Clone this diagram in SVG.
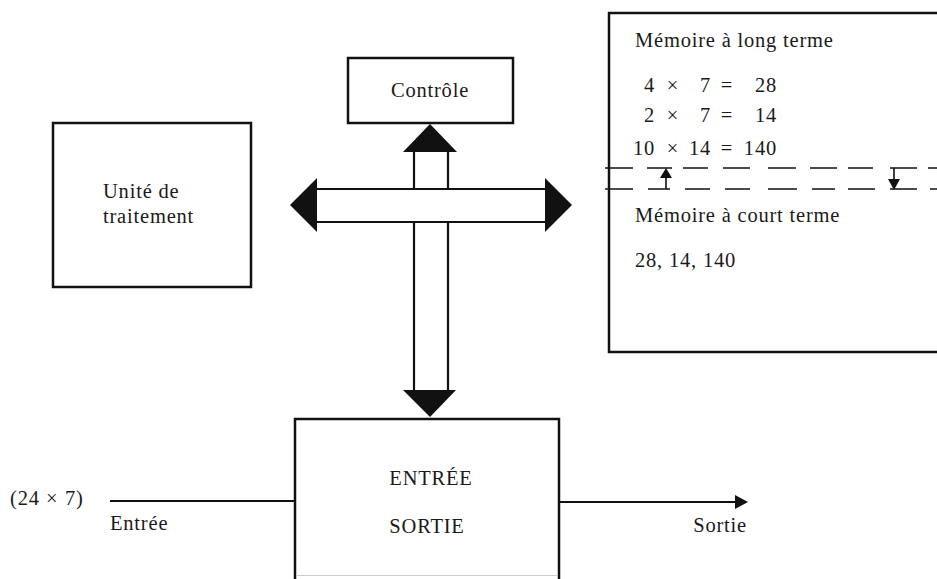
<svg xmlns="http://www.w3.org/2000/svg" width="937" height="579" viewBox="0 0 937 579">
<style>
  .box { fill: #fff; stroke: #111; stroke-width: 2.5; }
  .ln { fill: none; stroke: #111; stroke-width: 2.2; }
  .thin { fill: none; stroke: #111; stroke-width: 1.6; }
  .head { fill: #111; stroke: none; }
  text { font-family: "Liberation Serif", "DejaVu Serif", serif; font-size: 20.5px; fill: #1a1a1a; letter-spacing: 0.8px; }
</style>
<rect width="937" height="579" fill="#fff"/>

<g id="connectors">
  <path class="ln" d="M414,152 L414,189 M448,152 L448,189"/>
  <polygon class="head" points="430,124 403,152 457,152"/>
  <path class="ln" d="M317,189 L545,189 M317,222 L545,222"/>
  <polygon class="head" points="290,205 317,178 317,232"/>
  <polygon class="head" points="572,205 545,178 545,232"/>
  <path class="ln" d="M414,222 L414,391 M448,222 L448,391"/>
  <polygon class="head" points="430,417 403,390 456,390"/>
  <path class="ln" d="M110,501 L295,501"/>
  <path class="ln" d="M560,502 L737,502"/>
  <polygon class="head" points="748,502 735,495 735,509"/>
</g>

<g id="controle">
  <rect class="box" x="348" y="58" width="165" height="65"/>
  <text x="430" y="97" text-anchor="middle">Contrôle</text>
</g>

<g id="unite">
  <rect class="box" x="53" y="123" width="198" height="164"/>
  <text x="103" y="198">Unité de</text>
  <text x="103" y="223">traitement</text>
</g>

<g id="memoire">
  <path class="box" d="M945,13 L609,13 L609,352 L945,352"/>
  <text x="635" y="47">Mémoire à long terme</text>
  <text y="92"><tspan x="655" text-anchor="end">4</tspan><tspan x="673" text-anchor="middle">×</tspan><tspan x="711" text-anchor="end">7</tspan><tspan x="727" text-anchor="middle">=</tspan><tspan x="777" text-anchor="end">28</tspan></text>
  <text y="122"><tspan x="655" text-anchor="end">2</tspan><tspan x="673" text-anchor="middle">×</tspan><tspan x="711" text-anchor="end">7</tspan><tspan x="727" text-anchor="middle">=</tspan><tspan x="777" text-anchor="end">14</tspan></text>
  <text y="155"><tspan x="655" text-anchor="end">10</tspan><tspan x="673" text-anchor="middle">×</tspan><tspan x="711" text-anchor="end">14</tspan><tspan x="727" text-anchor="middle">=</tspan><tspan x="777" text-anchor="end">140</tspan></text>
  <path class="thin" d="M605,168 L633,168 M647,168 L672,168 M683,168 L708,168 M723,168 L750,168 M768,168 L796,168 M810,168 L837,168 M848,168 L873,168 M890,168 L917,168 M928,168 L937,168"/>
  <path class="thin" d="M605,189 L633,189 M648,189 L670,189 M685,189 L710,189 M725,189 L750,189 M768,189 L797,189 M812,189 L835,189 M848,189 L875,189 M890,189 L917,189 M930,189 L937,189"/>
  <path class="thin" d="M666,177 L666,189 M894,168 L894,180"/>
  <polygon class="head" points="666,168 660,178 672,178"/>
  <polygon class="head" points="894,190 888,179 900,179"/>
  <text x="635" y="222">Mémoire à court terme</text>
  <text x="635" y="267">28, 14, 140</text>
</g>

<g id="entree-sortie">
  <path class="box" d="M295,579 L295,419 L559,419 L559,579"/>
  <line x1="297" y1="575.5" x2="557" y2="575.5" stroke="#ccc" stroke-width="1.2"/>
  <text x="431" y="485" text-anchor="middle">ENTRÉE</text>
  <text x="427" y="533" text-anchor="middle">SORTIE</text>
</g>

<g id="labels">
  <text y="505"><tspan x="10">(24</tspan><tspan x="46">×</tspan><tspan x="65">7)</tspan></text>
  <text x="110" y="530">Entrée</text>
  <text x="747" y="532" text-anchor="end">Sortie</text>
</g>
</svg>
